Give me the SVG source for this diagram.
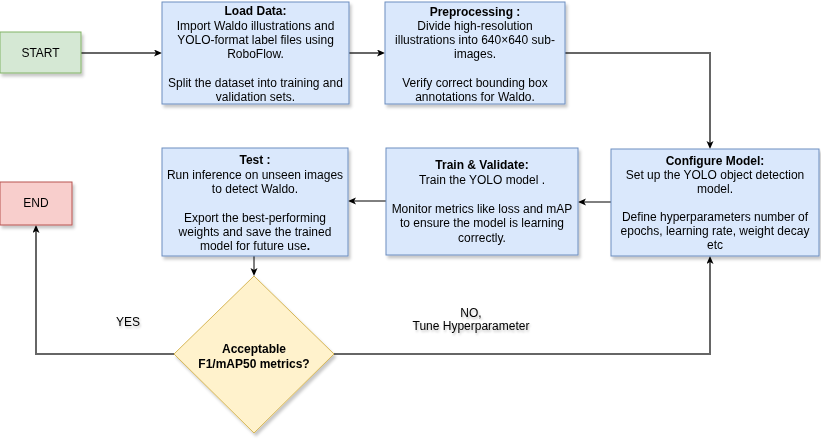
<svg xmlns="http://www.w3.org/2000/svg" width="821" height="445" viewBox="0 0 821 445">
<defs>
<filter id="sh" x="-10%" y="-10%" width="130%" height="130%">
<feDropShadow dx="2" dy="3" stdDeviation="1.5" flood-color="#000" flood-opacity="0.22"/>
</filter>
<filter id="tsh" x="-20%" y="-40%" width="140%" height="200%">
<feDropShadow dx="1" dy="2" stdDeviation="1.2" flood-color="#000" flood-opacity="0.25"/>
</filter>
<marker id="ah" markerUnits="userSpaceOnUse" markerWidth="10" markerHeight="8" refX="2" refY="3.5" orient="auto">
<path d="M0,0 L8,3.5 L0,7 L2,3.5 z" fill="#000"/>
</marker>
</defs>
<style>
text{font-family:"Liberation Sans",Arial,sans-serif;font-size:12px;fill:#000;text-anchor:middle}
.b{font-weight:bold}
.blue{fill:#dae8fc;stroke:#6c8ebf;stroke-width:1}
.green{fill:#d5e8d4;stroke:#82b366;stroke-width:1}
.red{fill:#f8cecc;stroke:#b85450;stroke-width:1}
.yel{fill:#fff2cc;stroke:#d6b656;stroke-width:1}
.thick{fill:none;stroke:#666;stroke-width:2}
.thin{fill:none;stroke:#000;stroke-width:1}
</style>
<rect width="821" height="445" fill="#fff"/>
<g id="connectors">
<path class="thick" d="M81,53 L156,53" marker-end="url(#ah)"/>
<path class="thick" d="M349,53 L379,53" marker-end="url(#ah)"/>
<path class="thick" d="M565,53 L710,53 L710,143" marker-end="url(#ah)"/>
<path class="thin" d="M611,202 L584,202" marker-end="url(#ah)"/>
<path class="thin" d="M386,201 L354,201" marker-end="url(#ah)"/>
<path class="thin" d="M254,256 L254,270" marker-end="url(#ah)"/>
<path class="thick" d="M174,354 L36,354 L36,231" marker-end="url(#ah)"/>
<path class="thick" d="M334,354 L710,354 L710,262" marker-end="url(#ah)"/>
<g filter="url(#tsh)">
<text x="128" y="326">YES</text>
<text x="471" y="317">NO,</text>
<text x="471" y="330">Tune Hyperparameter</text>
</g>
</g>
<g id="start" filter="url(#sh)">
<rect class="green" x="0" y="32" width="81" height="41"/>
<text x="40.5" y="57">START</text>
</g>
<g id="load" filter="url(#sh)">
<rect class="blue" x="162" y="2" width="187" height="102"/>
<text class="b" x="255.5" y="15">Load Data:</text>
<text x="255.5" y="30">Import Waldo illustrations and</text>
<text x="255.5" y="44">YOLO-format label files using</text>
<text x="255.5" y="58">RoboFlow.</text>
<text x="255.5" y="87">Split the dataset into training and</text>
<text x="255.5" y="101">validation sets.</text>
</g>
<g id="preprocessing" filter="url(#sh)">
<rect class="blue" x="385" y="2" width="180" height="102"/>
<text class="b" x="475" y="16">Preprocessing :</text>
<text x="475" y="30">Divide high-resolution</text>
<text x="475" y="44">illustrations into 640×640 sub-</text>
<text x="475" y="58">images.</text>
<text x="475" y="87">Verify correct bounding box</text>
<text x="475" y="101">annotations for Waldo.</text>
</g>
<g id="configure" filter="url(#sh)">
<rect class="blue" x="611" y="149" width="208" height="107"/>
<text class="b" x="715" y="165">Configure Model:</text>
<text x="715" y="179">Set up the YOLO object detection</text>
<text x="715" y="193">model.</text>
<text x="715" y="221">Define hyperparameters number of</text>
<text x="715" y="235">epochs, learning rate, weight decay</text>
<text x="715" y="249">etc</text>
</g>
<g id="train" filter="url(#sh)">
<rect class="blue" x="386" y="148" width="192" height="107"/>
<text class="b" x="482" y="169">Train &amp; Validate:</text>
<text x="482" y="184">Train the YOLO model .</text>
<text x="482" y="213">Monitor metrics like loss and mAP</text>
<text x="482" y="227">to ensure the model is learning</text>
<text x="482" y="242">correctly.</text>
</g>
<g id="test" filter="url(#sh)">
<rect class="blue" x="162" y="148" width="186" height="108"/>
<text class="b" x="255" y="164">Test :</text>
<text x="255" y="179">Run inference on unseen images</text>
<text x="255" y="193">to detect Waldo.</text>
<text x="255" y="222">Export the best-performing</text>
<text x="255" y="236">weights and save the trained</text>
<text x="255" y="250">model for future use<tspan class="b">.</tspan></text>
</g>
<g id="end" filter="url(#sh)">
<rect class="red" x="0" y="182" width="72" height="43"/>
<text x="36" y="207">END</text>
</g>
<g id="decision" filter="url(#sh)">
<polygon class="yel" points="254,276 334,354 254,433 174,354"/>
<text class="b" x="254" y="353">Acceptable</text>
<text class="b" x="254" y="368">F1/mAP50 metrics?</text>
</g>
</svg>
